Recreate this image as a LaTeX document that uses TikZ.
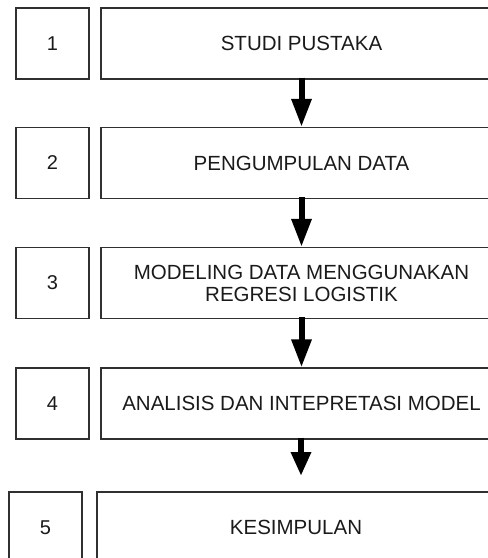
\documentclass[tikz,border=0pt]{standalone}
\usepackage{fontspec}
\setmainfont{Liberation Sans}
\usetikzlibrary{arrows.meta}
\definecolor{edge}{HTML}{303030}
\definecolor{ink}{HTML}{1A1A1A}
\begin{document}
\begin{tikzpicture}[x=1pt,y=1pt,
  numbox/.style={draw=edge,line width=1.2pt,rectangle,minimum width=73pt,minimum height=71pt,inner sep=0pt,font=\fontsize{20}{23}\selectfont,text=ink},
  stepbox/.style={draw=edge,line width=1.2pt,rectangle,minimum width=401pt,minimum height=71pt,inner sep=0pt,align=center,font=\fontsize{20.5}{23}\selectfont,text=ink},
  flow/.style={line width=6pt,draw=black,-{Triangle[width=19pt,length=28pt]}}]
\useasboundingbox (0,0) rectangle (488,-558);
\clip (0,0) rectangle (488,-558);
\node[numbox] (n1) at (52.5,-43.5) {1};
\node[stepbox] (s1) at (301.5,-43.5) {STUDI PUSTAKA};
\node[numbox] (n2) at (52.5,-163) {2};
\node[stepbox] (s2) at (301.5,-163) {PENGUMPULAN DATA};
\node[numbox] (n3) at (52.5,-283) {3};
\node[stepbox] (s3) at (301.5,-283) {MODELING DATA MENGGUNAKAN\\[-1pt]REGRESI LOGISTIK};
\node[numbox] (n4) at (52.5,-403.5) {4};
\node[stepbox] (s4) at (301.5,-403.5) {ANALISIS DAN INTEPRETASI MODEL};
\node[numbox] (n5) at (45.5,-527.5) {5};
\node[stepbox,minimum width=398pt] (s5) at (296,-527.5) {KESIMPULAN};
\coordinate (e4) at (301,-476);
\draw[flow] ([yshift=2pt]s1.south) -- (s2.north);
\draw[flow] ([yshift=2pt]s2.south) -- (s3.north);
\draw[flow] ([yshift=2pt]s3.south) -- (s4.north);
\draw[line width=6pt,draw=black,-{Triangle[width=19pt,length=24pt]}] ([yshift=2pt,xshift=-0.5pt]s4.south) -- (e4);
\end{tikzpicture}
\end{document}
